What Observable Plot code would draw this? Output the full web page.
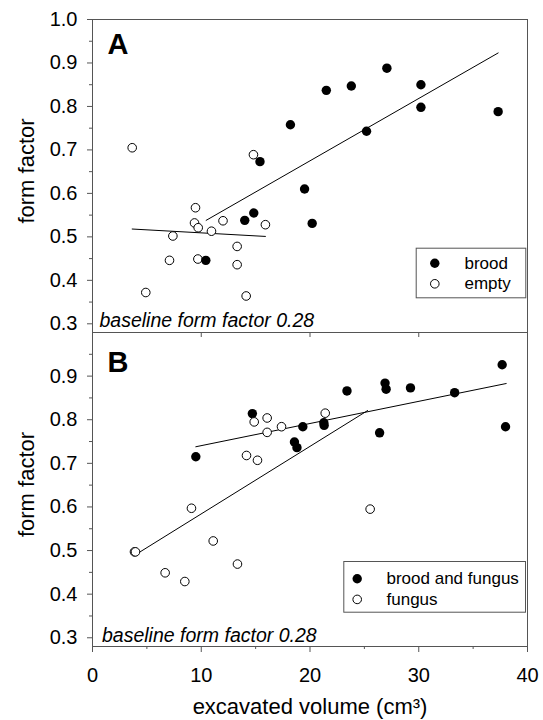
<!DOCTYPE html>
<html><head><meta charset="utf-8">
<script src="https://cdn.jsdelivr.net/npm/d3@7"></script>
<script src="https://cdn.jsdelivr.net/npm/@observablehq/plot@0.6"></script>
<style>body{margin:0;background:#fff;} #chart svg{display:block;}</style>
</head><body><div id="chart"></div>
<script>
// ---- Panel A data ----
const broodX = [27.07, 23.8, 21.5, 30.2, 30.2, 37.3, 18.2, 25.2, 15.4, 19.5, 20.2, 14.83, 14.0, 10.42];
const broodY = [0.888, 0.847, 0.837, 0.850, 0.798, 0.788, 0.758, 0.743, 0.673, 0.610, 0.531, 0.555, 0.538, 0.446];
const emptyX = [3.65, 14.8, 9.47, 9.38, 9.72, 12.0, 10.94, 15.9, 7.39, 13.3, 7.08, 9.69, 13.3, 4.9, 14.13];
const emptyY = [0.705, 0.689, 0.567, 0.532, 0.521, 0.537, 0.513, 0.528, 0.502, 0.478, 0.446, 0.449, 0.436, 0.372, 0.364];
const broodLineX = [10.45, 37.3];
const broodLineY = [0.538, 0.923];
const emptyLineX = [3.65, 15.9];
const emptyLineY = [0.518, 0.501];
// ---- Panel B data ----
const bfX = [37.67, 37.98, 26.9, 27.0, 29.24, 23.4, 33.3, 26.4, 14.7, 19.34, 21.27, 21.3, 18.57, 18.8, 9.5];
const bfY = [0.926, 0.784, 0.884, 0.870, 0.873, 0.866, 0.862, 0.770, 0.814, 0.784, 0.793, 0.787, 0.749, 0.736, 0.715];
const fungusX = [14.87, 16.06, 17.38, 16.06, 14.16, 15.17, 21.4, 9.1, 25.53, 11.1, 3.86, 3.95, 13.33, 6.68, 8.49];
const fungusY = [0.795, 0.804, 0.784, 0.771, 0.718, 0.707, 0.815, 0.597, 0.595, 0.522, 0.497, 0.497, 0.469, 0.449, 0.429];
const bfLineX = [9.5, 38.04];
const bfLineY = [0.738, 0.883];
const fungusLineX = [3.86, 25.3];
const fungusLineY = [0.489, 0.821];
// ---- ticks / labels ----
const xDomain = [0, 40];
const yDomain = [0.28, 1.0];
const xMajor = [0, 10, 20, 30, 40];
const xMinor = [5, 15, 25, 35];
const xInner = [10, 20, 30];
const yMajorA = [0.3, 0.4, 0.5, 0.6, 0.7, 0.8, 0.9, 1.0];
const yMajorB = [0.3, 0.4, 0.5, 0.6, 0.7, 0.8, 0.9];
const yMinor = [0.35, 0.45, 0.55, 0.65, 0.75, 0.85, 0.95];
const legendALabels = ["brood", "empty"];
const legendBLabels = ["brood and fungus", "fungus"];
const yLabel = "form factor";
const xLabel = "excavated volume (cm³)";
const baselineText = "baseline form factor 0.28";

const pts = (xs, ys) => xs.map((x, i) => ({x, y: ys[i]}));
const FONT = "'Liberation Sans', Arial, Helvetica, sans-serif";
const GRAY = "#555";
const fmt = d3.format(".1f");

function yAxes(major) {
  return [
    Plot.axisY({ticks: major, tickSize: 5, tickPadding: 10, tickFormat: fmt, label: null, stroke: GRAY}),
    Plot.axisY({ticks: yMinor, tickSize: 3, tickFormat: () => "", label: null, stroke: GRAY})
  ];
}
function legend(labels, dx, dyTop, textDx, box) {
  const marks = [Plot.frame({stroke: GRAY, ...box})];
  labels.forEach((lab, i) => {
    const dy = dyTop + i * 20.6;
    marks.push(Plot.dot([lab], {frameAnchor: "top-left", dx, dy, r: i === 0 ? 4.7 : 4.3,
      fill: i === 0 ? "black" : "white", stroke: "black", strokeWidth: i === 0 ? 0 : 1}));
    marks.push(Plot.text([lab], {text: d => d, frameAnchor: "top-left", dx: textDx, dy,
      textAnchor: "start", lineAnchor: "middle", fontSize: 17}));
  });
  return marks;
}

const svgA = Plot.plot({
  width: 543, height: 332, marginTop: 19, marginBottom: 0, marginLeft: 92, marginRight: 16,
  style: {fontFamily: FONT, fontSize: "20px", background: "white", overflow: "visible", color: "black"},
  x: {domain: xDomain, axis: null},
  y: {domain: yDomain},
  marks: [
    ...yAxes(yMajorA),
    Plot.line(pts(broodLineX, broodLineY), {x: "x", y: "y", stroke: "black", strokeWidth: 1}),
    Plot.line(pts(emptyLineX, emptyLineY), {x: "x", y: "y", stroke: "black", strokeWidth: 1}),
    Plot.dot(pts(emptyX, emptyY), {x: "x", y: "y", r: 4.3, fill: "white", stroke: "black", strokeWidth: 1}),
    Plot.dot(pts(broodX, broodY), {x: "x", y: "y", r: 4.7, fill: "black"}),
    ...legend(legendALabels, 342.3, 243.7, 372, {insetLeft: 323.7, insetRight: 1.7, insetTop: 228.7, insetBottom: 34.7}),
    Plot.text(["A"], {text: d => d, frameAnchor: "top-left", dx: 15, dy: 14, textAnchor: "start", lineAnchor: "top", fontSize: 29, fontWeight: "bold"}),
    Plot.text([baselineText], {text: d => d, frameAnchor: "bottom-left", dx: 7, dy: -6, textAnchor: "start", lineAnchor: "bottom", fontSize: 19.5, fontStyle: "italic"}),
    Plot.text([yLabel], {text: d => d, frameAnchor: "left", dx: -66, dy: -5, rotate: -90, textAnchor: "middle", lineAnchor: "middle", fontSize: 22}),
    Plot.frame({stroke: GRAY})
  ]
});

const svgB = Plot.plot({
  width: 543, height: 388, marginTop: 0, marginBottom: 74, marginLeft: 92, marginRight: 16,
  style: {fontFamily: FONT, fontSize: "20px", background: "white", overflow: "visible", color: "black"},
  x: {domain: xDomain},
  y: {domain: yDomain},
  marks: [
    ...yAxes(yMajorB),
    Plot.axisX({ticks: xMajor, tickSize: 6, tickPadding: 15, tickFormat: d3.format("d"), label: null, stroke: GRAY}),
    Plot.axisX({ticks: xMinor, tickSize: 3, tickFormat: () => "", label: null, stroke: GRAY}),
    Plot.axisX({anchor: "top", ticks: xInner, tickSize: -4, tickFormat: () => "", label: null, stroke: GRAY}),
    Plot.line(pts(bfLineX, bfLineY), {x: "x", y: "y", stroke: "black", strokeWidth: 1}),
    Plot.line(pts(fungusLineX, fungusLineY), {x: "x", y: "y", stroke: "black", strokeWidth: 1}),
    Plot.dot(pts(bfX, bfY), {x: "x", y: "y", r: 4.7, fill: "black"}),
    Plot.dot(pts(fungusX, fungusY), {x: "x", y: "y", r: 4.3, fill: "white", stroke: "black", strokeWidth: 1}),
    ...legend(legendBLabels, 264.7, 246.3, 294, {insetLeft: 251.3, insetRight: 2, insetTop: 229, insetBottom: 34.3}),
    Plot.text(["B"], {text: d => d, frameAnchor: "top-left", dx: 15, dy: 19, textAnchor: "start", lineAnchor: "top", fontSize: 29, fontWeight: "bold"}),
    Plot.text([baselineText], {text: d => d, frameAnchor: "bottom-left", dx: 9.5, dy: -5, textAnchor: "start", lineAnchor: "bottom", fontSize: 19.5, fontStyle: "italic"}),
    Plot.text([yLabel], {text: d => d, frameAnchor: "left", dx: -66, dy: -5, rotate: -90, textAnchor: "middle", lineAnchor: "middle", fontSize: 22}),
    Plot.text([xLabel], {text: d => d, frameAnchor: "bottom", dy: 60, textAnchor: "middle", lineAnchor: "middle", fontSize: 22}),
    Plot.frame({stroke: GRAY})
  ]
});

document.getElementById("chart").append(svgA, svgB);
</script>
</body></html>
